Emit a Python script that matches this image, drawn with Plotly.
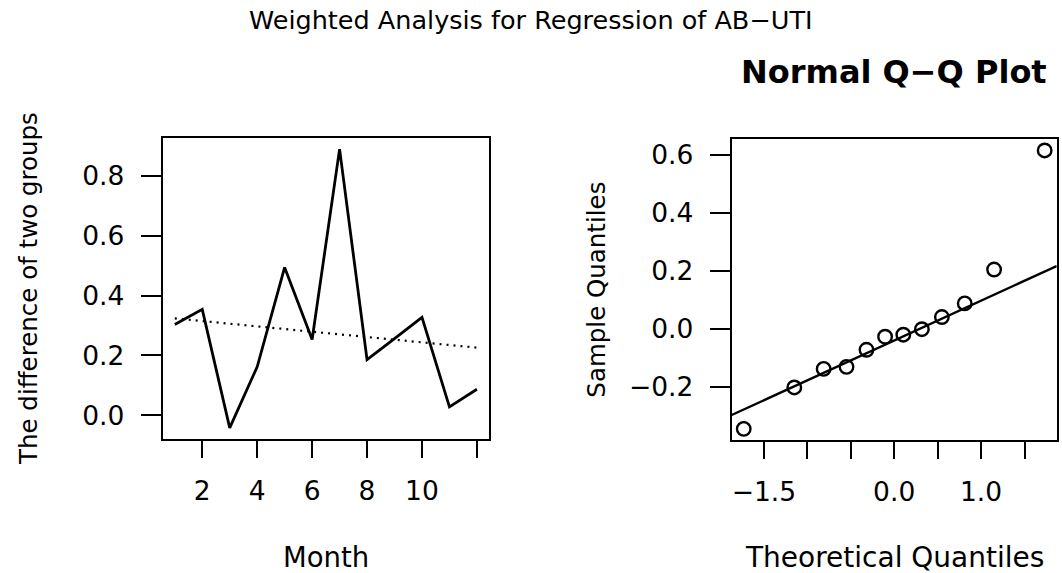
import numpy as np
import plotly.graph_objects as go

# Monthly difference between the two groups
month = [1, 2, 3, 4, 5, 6, 7, 8, 9, 10, 11, 12]
difference = [0.303, 0.354, -0.042, 0.162, 0.494, 0.253, 0.889, 0.186, 0.256, 0.327, 0.028, 0.087]

# Normal Q-Q data for the regression residuals
theoretical_q = [-1.732, -1.150, -0.812, -0.549, -0.319, -0.105,
                 0.105, 0.319, 0.549, 0.812, 1.150, 1.732]
sample_q = [-0.346, -0.203, -0.139, -0.132, -0.073, -0.028,
            -0.021, -0.002, 0.040, 0.087, 0.204, 0.615]

left_xticks = [2, 4, 6, 8, 10, 12]
left_xlabels = ["2", "4", "6", "8", "10", ""]
left_yticks = [0.0, 0.2, 0.4, 0.6, 0.8]
left_ylabels = ["0.0", "0.2", "0.4", "0.6", "0.8"]
right_xticks = [-1.5, -1.0, -0.5, 0.0, 0.5, 1.0, 1.5]
right_xlabels = ["\u22121.5", "", "", "0.0", "", "1.0", ""]
right_yticks = [-0.2, 0.0, 0.2, 0.4, 0.6]
right_ylabels = ["\u22120.2", "0.0", "0.2", "0.4", "0.6"]

Z_QUARTILE = 0.6744898  # standard normal upper quartile

FONT = "DejaVu Sans, Verdana, sans-serif"
W, H = 1062, 573


def padded(vals, frac=0.04):
    lo, hi = min(vals), max(vals)
    d = (hi - lo) * frac
    return [lo - d, hi + d]


# least-squares trend over the months
slope, intercept = np.polyfit(month, difference, 1)
trend_x = [month[0], month[-1]]
trend_y = [intercept + slope * m for m in trend_x]

# reference line through the quartiles
q1, q3 = np.quantile(sample_q, [0.25, 0.75])
qq_slope = (q3 - q1) / (2 * Z_QUARTILE)
qq_int = (q1 + q3) / 2
rx = padded(theoretical_q)
ry = padded(sample_q)
qq_x = rx
qq_y = [qq_int + qq_slope * v for v in rx]

fig = go.Figure()
fig.add_trace(go.Scatter(x=month, y=difference, mode="lines",
                         line=dict(color="black", width=2.8),
                         xaxis="x", yaxis="y", showlegend=False))
fig.add_trace(go.Scatter(x=trend_x, y=trend_y, mode="lines",
                         line=dict(color="black", width=2.2, dash="2px,5px"),
                         xaxis="x", yaxis="y", showlegend=False))
fig.add_trace(go.Scatter(x=qq_x, y=qq_y, mode="lines",
                         line=dict(color="black", width=2.4),
                         xaxis="x2", yaxis="y2", showlegend=False))
fig.add_trace(go.Scatter(x=theoretical_q, y=sample_q, mode="markers",
                         marker=dict(symbol="circle-open", size=13.5,
                                     color="black", line=dict(width=2.4)),
                         cliponaxis=False,
                         xaxis="x2", yaxis="y2", showlegend=False))

axis_common = dict(showline=True, mirror=True, linecolor="black", linewidth=2.2,
                   ticks="outside", tickcolor="black", tickwidth=2.2,
                   showgrid=False, zeroline=False, fixedrange=True,
                   tickfont=dict(family=FONT, size=26.5, color="black"))

L = (162.7, 489.0, 138.0, 439.0)
R = (731.7, 1056.7, 139.3, 440.0)

fig.update_layout(
    width=W, height=H,
    margin=dict(l=0, r=0, t=0, b=0),
    paper_bgcolor="white", plot_bgcolor="white",
    xaxis=dict(axis_common, domain=[L[0] / W, L[1] / W], range=padded(month),
               tickmode="array", tickvals=left_xticks, ticktext=left_xlabels,
               ticklen=17, ticklabelstandoff=10, anchor="y"),
    yaxis=dict(axis_common, domain=[1 - L[3] / H, 1 - L[2] / H], range=padded(difference),
               tickmode="array", tickvals=left_yticks, ticktext=left_ylabels,
               ticklen=20, ticklabelstandoff=11, anchor="x"),
    xaxis2=dict(axis_common, domain=[R[0] / W, R[1] / W], range=rx,
                tickmode="array", tickvals=right_xticks, ticktext=right_xlabels,
                ticklen=17, ticklabelstandoff=10, anchor="y2"),
    yaxis2=dict(axis_common, domain=[1 - R[3] / H, 1 - R[2] / H], range=ry,
                tickmode="array", tickvals=right_yticks, ticktext=right_ylabels,
                ticklen=20, ticklabelstandoff=11, anchor="x2"),
)


def label(text, x, y, size, angle=0, bold=False):
    fig.add_annotation(text=f"<b>{text}</b>" if bold else text,
                       x=x / W, y=1 - y / H, xref="paper", yref="paper",
                       xanchor="center", yanchor="middle", showarrow=False,
                       textangle=angle,
                       font=dict(family=FONT, size=size, color="black"))


label("Weighted Analysis for Regression of AB\u2212UTI", 531, 20, 25.5)
label("Normal Q\u2212Q Plot", (R[0] + R[1]) / 2, 72, 32, bold=True)
label("The difference of two groups", 28.5, (L[2] + L[3]) / 2, 24.5, angle=-90)
label("Sample Quantiles", 597, (R[2] + R[3]) / 2, 24.5, angle=-90)
label("Month", (L[0] + L[1]) / 2, 557, 27.5)
label("Theoretical Quantiles", (R[0] + R[1]) / 2, 557, 28)

fig.write_html("out.html")
